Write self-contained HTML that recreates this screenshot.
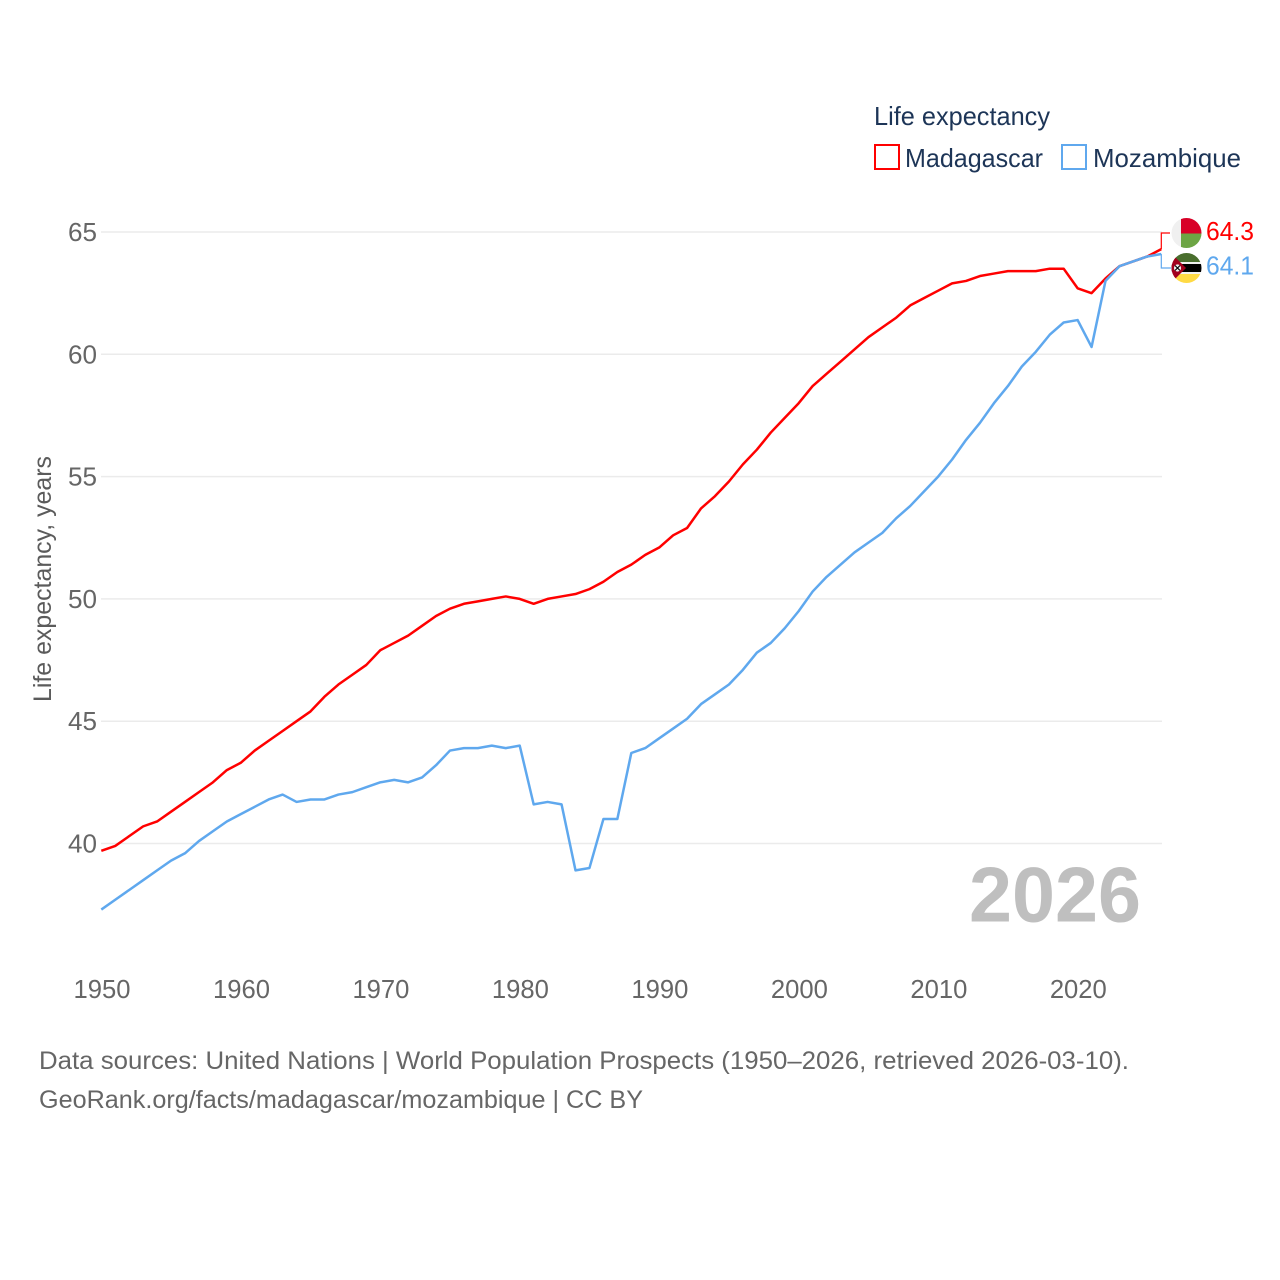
<!DOCTYPE html>
<html lang="en">
<head>
<meta charset="utf-8">
<title>Life expectancy: Madagascar and Mozambique</title>
<style>
html,body{margin:0;padding:0;background:#fff;width:1280px;height:1280px;overflow:hidden}
svg{display:block}
text{font-family:"Liberation Sans",sans-serif}
</style>
</head>
<body>
<svg id="chart" xmlns="http://www.w3.org/2000/svg" width="1280" height="1280" viewBox="0 0 1280 1280">
  <rect x="0" y="0" width="1280" height="1280" fill="#ffffff"/>
  <g id="grid"></g>
  <g id="y-ticks"></g>
  <g id="x-ticks"></g>
  <text transform="translate(51,579) rotate(-90)" text-anchor="middle" font-size="25" fill="#5b5b5b" textLength="246" lengthAdjust="spacingAndGlyphs">Life expectancy, years</text>
  <text x="969" y="921.5" font-size="78" font-weight="700" fill="#bfbfbf" textLength="172" lengthAdjust="spacingAndGlyphs">2026</text>
  <g id="series"></g>

  <g>
    <text x="874" y="125" font-size="26" fill="#1d3557" textLength="176" lengthAdjust="spacingAndGlyphs">Life expectancy</text>
    <g>
      <rect x="875" y="145" width="24" height="24" fill="#fff" stroke="#ff0000" stroke-width="2"/>
      <text x="905" y="167" font-size="26" fill="#1d3557" textLength="138" lengthAdjust="spacingAndGlyphs">Madagascar</text>
    </g>
    <g>
      <rect x="1062" y="145" width="24" height="24" fill="#fff" stroke="#5fa8ee" stroke-width="2"/>
      <text x="1093" y="167" font-size="26" fill="#1d3557" textLength="148" lengthAdjust="spacingAndGlyphs">Mozambique</text>
    </g>
  </g>

  <defs>
    <clipPath id="clip-mg"><circle cx="1186.5" cy="233" r="15"/></clipPath>
    <clipPath id="clip-mz"><circle cx="1186.5" cy="268" r="15"/></clipPath>
  </defs>
  <g clip-path="url(#clip-mg)">
    <rect x="1171" y="218" width="31" height="31" fill="#f0f0f0"/>
    <rect x="1181" y="218" width="21" height="15.5" fill="#d80027"/>
    <rect x="1181" y="233.5" width="21" height="15.5" fill="#6da544"/>
  </g>
  <g clip-path="url(#clip-mz)">
    <rect x="1171" y="253" width="31" height="9" fill="#496e2d"/>
    <rect x="1171" y="262" width="31" height="12" fill="#f0f0f0"/>
    <rect x="1171" y="264" width="31" height="8" fill="#000000"/>
    <rect x="1171" y="274" width="31" height="10" fill="#ffda44"/>
    <polygon points="1171,253 1186,268 1171,283" fill="#a2001d"/>
    <circle cx="1177.5" cy="268" r="3.6" fill="#f0f0f0"/>
    <path d="M1175 265.5L1180 270.5M1180 265.5L1175 270.5" stroke="#000" stroke-width="1.2"/>
  </g>
  <g id="end-labels"></g>

  <text x="39" y="1069" font-size="25" fill="#666666" textLength="1090" lengthAdjust="spacingAndGlyphs">Data sources: United Nations | World Population Prospects (1950–2026, retrieved 2026-03-10).</text>
  <text x="39" y="1108" font-size="25" fill="#666666" textLength="604" lengthAdjust="spacingAndGlyphs">GeoRank.org/facts/madagascar/mozambique | CC BY</text>
</svg>
<script>
const years = [1950,1951,1952,1953,1954,1955,1956,1957,1958,1959,1960,1961,1962,1963,1964,1965,1966,1967,1968,1969,1970,1971,1972,1973,1974,1975,1976,1977,1978,1979,1980,1981,1982,1983,1984,1985,1986,1987,1988,1989,1990,1991,1992,1993,1994,1995,1996,1997,1998,1999,2000,2001,2002,2003,2004,2005,2006,2007,2008,2009,2010,2011,2012,2013,2014,2015,2016,2017,2018,2019,2020,2021,2022,2023,2024,2025,2026];
const madagascar = [39.7,39.9,40.3,40.7,40.9,41.3,41.7,42.1,42.5,43.0,43.3,43.8,44.2,44.6,45.0,45.4,46.0,46.5,46.9,47.3,47.9,48.2,48.5,48.9,49.3,49.6,49.8,49.9,50.0,50.1,50.0,49.8,50.0,50.1,50.2,50.4,50.7,51.1,51.4,51.8,52.1,52.6,52.9,53.7,54.2,54.8,55.5,56.1,56.8,57.4,58.0,58.7,59.2,59.7,60.2,60.7,61.1,61.5,62.0,62.3,62.6,62.9,63.0,63.2,63.3,63.4,63.4,63.4,63.5,63.5,62.7,62.5,63.1,63.6,63.8,64.0,64.3];
const mozambique = [37.3,37.7,38.1,38.5,38.9,39.3,39.6,40.1,40.5,40.9,41.2,41.5,41.8,42.0,41.7,41.8,41.8,42.0,42.1,42.3,42.5,42.6,42.5,42.7,43.2,43.8,43.9,43.9,44.0,43.9,44.0,41.6,41.7,41.6,38.9,39.0,41.0,41.0,43.7,43.9,44.3,44.7,45.1,45.7,46.1,46.5,47.1,47.8,48.2,48.8,49.5,50.3,50.9,51.4,51.9,52.3,52.7,53.3,53.8,54.4,55.0,55.7,56.5,57.2,58.0,58.7,59.5,60.1,60.8,61.3,61.4,60.3,63.0,63.6,63.8,64.0,64.1];
const yTicks = [40,45,50,55,60,65];
const xTicks = [1950,1960,1970,1980,1990,2000,2010,2020];

const NS = 'http://www.w3.org/2000/svg';
const RED = '#ff0000';
const BLUE = '#5fa8ee';
const xScale = function (year) { return 101.3 + (year - 1950) * (1060 / 76); };
const yScale = function (value) { return 843.5 - (value - 40) * (611.5 / 25); };

function make(tag, parent, attrs, content) {
  const el = document.createElementNS(NS, tag);
  Object.keys(attrs).forEach(function (k) { el.setAttribute(k, attrs[k]); });
  if (content !== undefined) el.textContent = content;
  parent.appendChild(el);
  return el;
}

const gridGroup = document.getElementById('grid');
const yGroup = document.getElementById('y-ticks');
yTicks.forEach(function (t) {
  const line = make('line', gridGroup, {x1: 101, x2: 1162, y1: yScale(t), y2: yScale(t), stroke: '#ebebeb', 'stroke-width': 1.5});
  
  
  const label = make('text', yGroup, {x: 97, y: yScale(t) + 9, 'text-anchor': 'end', 'font-size': 26, fill: '#666666', textLength: 29, lengthAdjust: 'spacingAndGlyphs'}, String(t));
  
  
});

const xGroup = document.getElementById('x-ticks');
xTicks.forEach(function (t) {
  const label = make('text', xGroup, {x: xScale(t) + 0.7, y: 998, 'text-anchor': 'middle', 'font-size': 26, fill: '#666666', textLength: 57, lengthAdjust: 'spacingAndGlyphs'}, String(t));
  
  
});

function linePoints(values) {
  return values.map(function (v, i) { return xScale(years[i]).toFixed(2) + ',' + yScale(v).toFixed(2); }).join(' ');
}

const seriesGroup = document.getElementById('series');
const endGroup = document.getElementById('end-labels');
const lastYear = years[years.length - 1];

const redLine = make('polyline', seriesGroup, {points: linePoints(madagascar), fill: 'none', stroke: RED, 'stroke-width': 2.5, 'stroke-linejoin': 'round'});


const blueLine = make('polyline', seriesGroup, {points: linePoints(mozambique), fill: 'none', stroke: BLUE, 'stroke-width': 2.5, 'stroke-linejoin': 'round'});



const endRed = madagascar[madagascar.length - 1];
const endBlue = mozambique[mozambique.length - 1];
const redConnector = make('polyline', endGroup, {points: xScale(lastYear) + ',' + yScale(endRed) + ' ' + xScale(lastYear) + ',233 1170,233', fill: 'none', stroke: RED, 'stroke-width': 1.2});


const blueConnector = make('polyline', endGroup, {points: xScale(lastYear) + ',' + yScale(endBlue) + ' ' + xScale(lastYear) + ',268 1171,268', fill: 'none', stroke: BLUE, 'stroke-width': 1.2});



const redValue = make('text', endGroup, {x: 1206, y: 240, 'font-size': 26, fill: RED, textLength: 48, lengthAdjust: 'spacingAndGlyphs'}, endRed.toFixed(1));


const blueValue = make('text', endGroup, {x: 1206, y: 274.5, 'font-size': 26, fill: BLUE, textLength: 48, lengthAdjust: 'spacingAndGlyphs'}, endBlue.toFixed(1));


</script>
</body>
</html>
